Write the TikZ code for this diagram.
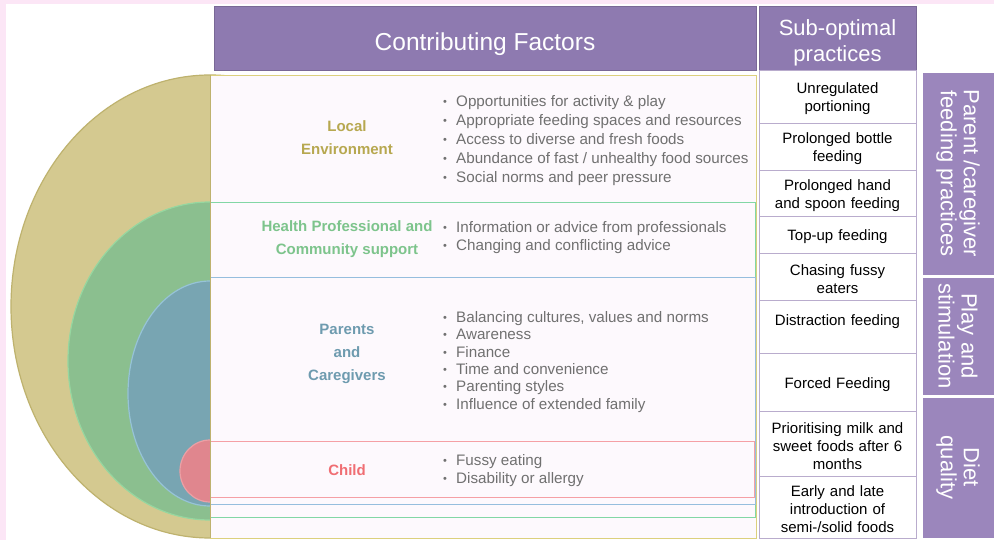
\documentclass[tikz,border=0pt]{standalone}
\usepackage{fontspec}
\setmainfont{Liberation Sans}
\usepackage{tikz}

\definecolor{pinkbg}{RGB}{252,230,246}
\definecolor{headpurple}{RGB}{142,122,176}
\definecolor{sidepurple}{RGB}{155,134,188}
\definecolor{cellline}{RGB}{185,172,205}
\definecolor{boxfill}{RGB}{253,249,253}
\definecolor{yellowfill}{RGB}{212,201,144}
\definecolor{yellowedge}{RGB}{190,178,110}
\definecolor{yellowline}{RGB}{220,208,125}
\definecolor{yellowtext}{RGB}{183,168,80}
\definecolor{greenfill}{RGB}{139,191,143}
\definecolor{greenedge}{RGB}{150,215,160}
\definecolor{greenline}{RGB}{130,215,165}
\definecolor{greentext}{RGB}{125,196,140}
\definecolor{bluefill}{RGB}{120,165,178}
\definecolor{blueedge}{RGB}{150,195,215}
\definecolor{blueline}{RGB}{150,190,222}
\definecolor{bluetext}{RGB}{110,155,175}
\definecolor{redfill}{RGB}{224,134,142}
\definecolor{rededge}{RGB}{235,160,165}
\definecolor{redline}{RGB}{245,160,165}
\definecolor{redtext}{RGB}{240,110,115}
\definecolor{bullettext}{RGB}{112,112,112}

\newcommand{\bul}{\makebox[15pt][l]{\hspace{2pt}\raisebox{1pt}{\fontsize{11}{11}\selectfont•}}}

\tikzset{
  headbox/.style={fill=headpurple, draw=headpurple!85!black, line width=0.6pt,
    inner sep=0pt},
  headtext/.style={text=white, align=center, inner sep=0pt},
  sidebox/.style={fill=sidepurple, draw=white, line width=0.6pt, text=white,
    rotate=-90, inner sep=0pt, align=center, minimum height=72,
    font=\fontsize{22}{23}\selectfont},
  cellbox/.style={fill=white, draw=cellline, line width=0.8pt, inner sep=0pt,
    minimum width=157},
  celltext/.style={text width=150, align=center, inner sep=0pt, yshift=-2.5pt,
    font=\fontsize{15}{18}\selectfont},
  factorlabel/.style={font=\fontsize{15}{23}\selectfont\bfseries, align=center},
  bulletlist/.style={anchor=west, align=left, text=bullettext, inner sep=0pt}
}

\begin{document}
\begin{tikzpicture}[x=1pt, y=-1pt]
	\useasboundingbox (0,0) rectangle (994,540);
	\fill[pinkbg] (0,0) rectangle (994,540);
	\fill[white] (6,4) rectangle (994,540);
	
	% nested half circles
	\filldraw[fill=yellowfill, draw=yellowedge, line width=1.2pt] (210,306.5) ellipse [x radius=199, y radius=231.5];
	\filldraw[fill=greenfill, draw=greenedge, line width=1.2pt] (210,361) ellipse [x radius=142, y radius=159];
	\filldraw[fill=bluefill, draw=blueedge, line width=1.2pt] (210,393.5) ellipse [x radius=82, y radius=112.5];
	\filldraw[fill=redfill, draw=rededge, line width=1.2pt] (210,471) ellipse [x radius=30, y radius=31];
	
	% factor boxes
	\filldraw[fill=boxfill, draw=yellowline, line width=0.8pt] (210,75) rectangle (756,538);
	\draw[greenline, line width=0.8pt] (210,202) rectangle (755,517);
	\draw[blueline, line width=0.8pt] (210,277) rectangle (755,504);
	\draw[redline, line width=0.8pt] (210,441) rectangle (754,497);
	\draw[yellowedge, line width=0.8pt] (210,75) -- (210,538);
	
	% headers
	\node[headbox, minimum width=542, minimum height=64] (contrib) at (485,38) {};
	\node[headtext, font=\fontsize{24.5}{26}\selectfont] (contribtext) at (485,44) {Contributing Factors};
	\node[headbox, minimum width=157, minimum height=64] (subopt) at (837.5,38) {};
	\node[headtext, font=\fontsize{22}{26}\selectfont] (subopttext) at (837.5,43) {Sub-optimal\\practices};
	
	% factor labels
	\node[factorlabel, text=yellowtext] (local) at (347,137.5) {Local\\Environment};
	\node[factorlabel, text=greentext] (health) at (347,239) {Health Professional and\\Community support};
	\node[factorlabel, text=bluetext] (parents) at (347,354) {Parents\\and\\Caregivers};
	\node[factorlabel, text=redtext] (child) at (347,470) {Child};
	
	\node[bulletlist, font=\fontsize{15.2}{19}\selectfont] (localitems) at (441,141)
		{\bul Opportunities for activity \& play\\\bul Appropriate feeding spaces and resources\\\bul Access to diverse and fresh foods\\\bul Abundance of fast / unhealthy food sources\\\bul Social norms and peer pressure};
	\node[bulletlist, font=\fontsize{15.2}{18}\selectfont] (healthitems) at (441,238)
		{\bul Information or advice from professionals\\\bul Changing and conflicting advice};
	\node[bulletlist, font=\fontsize{15.2}{17.3}\selectfont] (parentsitems) at (441,362)
		{\bul Balancing cultures, values and norms\\\bul Awareness\\\bul Finance\\\bul Time and convenience\\\bul Parenting styles\\\bul Influence of extended family};
	\node[bulletlist, font=\fontsize{15.2}{18}\selectfont] (childitems) at (441,471)
		{\bul Fussy eating\\\bul Disability or allergy};
	
	% sub-optimal practices
	\node[cellbox, minimum height=53] (unreg) at (837.5,96.5) {};
	\node[celltext] (unregtext) at (unreg) {Unregulated\\portioning};
	\node[cellbox, minimum height=47] (bottle) at (837.5,146.5) {};
	\node[celltext] (bottletext) at (bottle) {Prolonged bottle\\feeding};
	\node[cellbox, minimum height=46] (spoon) at (837.5,193) {};
	\node[celltext] (spoontext) at (spoon) {Prolonged hand\\and spoon feeding};
	\node[cellbox, minimum height=37] (topup) at (837.5,234.5) {};
	\node[celltext] (topuptext) at (topup) {Top-up feeding};
	\node[cellbox, minimum height=47] (chasing) at (837.5,276.5) {};
	\node[celltext] (chasingtext) at (chasing) {Chasing fussy\\eaters};
	\node[cellbox, minimum height=53] (distract) at (837.5,326.5) {};
	\node[celltext] (distracttext) at (837.5,319) {Distraction feeding};
	\node[cellbox, minimum height=58] (forced) at (837.5,382) {};
	\node[celltext] (forcedtext) at (forced) {Forced Feeding};
	\node[cellbox, minimum height=65] (milk) at (837.5,443.5) {};
	\node[celltext] (milktext) at (milk) {Prioritising milk and\\sweet foods after 6\\months};
	\node[cellbox, minimum height=62] (solid) at (837.5,507) {};
	\node[celltext] (solidtext) at (solid) {Early and late\\introduction of\\semi-/solid foods};
	
	% practice groups
	\node[sidebox, minimum width=203] (feeding) at (958,173.5) {Parent /caregiver\\feeding practices};
	\node[sidebox, minimum width=118] (play) at (958,336) {Play and\\stimulation};
	\node[sidebox, minimum width=141] (diet) at (958,467.5) {Diet\\quality};
	
\end{tikzpicture}
\end{document}
